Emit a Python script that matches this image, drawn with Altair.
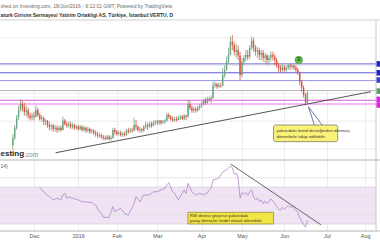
import altair as alt
import pandas as pd

# ---------------- data (daily bars, index 0 = 2015-11-16) ----------------
opens = [2.07,2.20,2.38,2.56,2.70,2.81,2.76,2.67,2.69,2.60,
         2.56,2.60,2.58,2.70,2.61,2.54,2.56,2.49,2.51,2.43,
         2.40,2.42,2.36,2.38,2.34,2.38,2.34,2.51,2.45,2.42,
         2.45,2.40,2.43,2.38,2.40,2.36,2.40,2.34,2.38,2.33,
         2.36,2.31,2.33,2.29,2.27,2.24,2.25,2.22,2.20,2.18,
         2.22,2.18,2.20,2.34,2.31,2.27,2.29,2.25,2.27,2.25,
         2.33,2.31,2.34,2.33,2.43,2.40,2.34,2.36,2.33,2.40,
         2.43,2.40,2.45,2.42,2.47,2.49,2.47,2.51,2.47,2.49,
         2.51,2.61,2.58,2.54,2.51,2.54,2.52,2.56,2.58,2.54,
         2.60,2.58,2.81,2.74,2.69,2.72,2.69,2.74,2.78,2.81,
         2.87,2.83,2.90,2.88,2.92,3.14,3.17,3.12,3.15,3.14,
         3.33,3.42,3.57,3.69,3.93,3.87,3.75,3.78,3.68,3.33,
         3.57,3.64,3.69,3.66,3.82,3.95,3.82,3.75,3.78,3.69,
         3.73,3.64,3.68,3.60,3.64,3.69,3.66,3.60,3.51,3.46,
         3.42,3.48,3.42,3.46,3.50,3.48,3.50,3.46,3.42,3.37,
         3.21,3.10,2.97,2.83]
highs = [2.27,2.43,2.61,2.78,2.90,2.88,2.83,2.78,2.74,2.65,
         2.65,2.67,2.78,2.74,2.65,2.61,2.58,2.54,2.52,2.49,
         2.45,2.45,2.43,2.42,2.42,2.42,2.58,2.54,2.49,2.49,
         2.49,2.47,2.45,2.43,2.43,2.43,2.42,2.42,2.40,2.40,
         2.38,2.36,2.36,2.33,2.31,2.29,2.27,2.25,2.24,2.25,
         2.25,2.24,2.38,2.38,2.34,2.33,2.33,2.31,2.31,2.36,
         2.38,2.38,2.38,2.56,2.52,2.42,2.40,2.38,2.43,2.49,
         2.47,2.49,2.49,2.51,2.52,2.52,2.52,2.52,2.52,2.54,
         2.65,2.65,2.61,2.58,2.58,2.58,2.60,2.61,2.61,2.63,
         2.61,2.88,2.87,2.78,2.76,2.76,2.78,2.81,2.85,2.90,
         2.92,2.94,2.94,2.96,3.21,3.21,3.19,3.19,3.19,3.46,
         3.50,3.66,3.82,4.02,4.05,3.93,3.89,3.86,3.75,3.64,
         3.69,3.78,3.78,3.87,4.02,4.00,3.87,3.84,3.82,3.78,
         3.78,3.73,3.71,3.69,3.75,3.75,3.71,3.64,3.55,3.51,
         3.53,3.51,3.50,3.53,3.53,3.53,3.51,3.50,3.46,3.39,
         3.24,3.14,3.01,3.05]
lows = [1.98,2.16,2.34,2.52,2.67,2.67,2.60,2.58,2.54,2.51,
        2.52,2.51,2.56,2.58,2.51,2.49,2.43,2.42,2.38,2.34,
        2.33,2.31,2.31,2.29,2.31,2.31,2.33,2.42,2.38,2.38,
        2.36,2.36,2.34,2.34,2.33,2.33,2.31,2.31,2.29,2.29,
        2.27,2.27,2.25,2.22,2.20,2.20,2.18,2.16,2.15,2.16,
        2.15,2.15,2.18,2.25,2.24,2.24,2.22,2.22,2.22,2.24,
        2.27,2.29,2.29,2.31,2.34,2.31,2.29,2.29,2.31,2.36,
        2.34,2.38,2.38,2.40,2.43,2.43,2.43,2.43,2.45,2.45,
        2.49,2.54,2.51,2.49,2.49,2.49,2.51,2.52,2.52,2.52,
        2.52,2.56,2.70,2.65,2.65,2.65,2.67,2.70,2.74,2.78,
        2.79,2.81,2.85,2.83,2.90,3.10,3.08,3.10,3.10,3.12,
        3.28,3.41,3.53,3.68,3.78,3.68,3.64,3.60,3.24,3.28,
        3.51,3.57,3.60,3.62,3.78,3.75,3.68,3.64,3.60,3.60,
        3.57,3.55,3.53,3.51,3.57,3.59,3.51,3.46,3.39,3.37,
        3.39,3.37,3.39,3.42,3.42,3.44,3.42,3.37,3.33,3.14,
        3.03,2.92,2.78,2.79]
closes = [2.20,2.38,2.56,2.70,2.81,2.74,2.67,2.70,2.60,2.56,
          2.60,2.58,2.70,2.61,2.54,2.56,2.49,2.51,2.43,2.40,
          2.42,2.36,2.38,2.34,2.38,2.34,2.51,2.45,2.42,2.45,
          2.40,2.43,2.38,2.40,2.36,2.40,2.34,2.38,2.33,2.36,
          2.31,2.33,2.29,2.27,2.24,2.25,2.22,2.20,2.18,2.22,
          2.18,2.20,2.34,2.31,2.27,2.29,2.25,2.27,2.25,2.33,
          2.31,2.34,2.33,2.43,2.40,2.34,2.36,2.33,2.40,2.43,
          2.40,2.45,2.42,2.47,2.49,2.47,2.51,2.47,2.49,2.51,
          2.61,2.58,2.54,2.51,2.54,2.52,2.56,2.58,2.54,2.60,
          2.58,2.81,2.74,2.69,2.72,2.69,2.74,2.78,2.81,2.87,
          2.83,2.90,2.88,2.92,3.14,3.17,3.12,3.15,3.14,3.33,
          3.42,3.57,3.69,3.93,3.87,3.75,3.78,3.68,3.33,3.57,
          3.64,3.69,3.66,3.82,3.95,3.82,3.75,3.78,3.69,3.73,
          3.64,3.68,3.60,3.64,3.69,3.66,3.60,3.51,3.46,3.42,
          3.48,3.42,3.46,3.50,3.48,3.50,3.46,3.42,3.37,3.21,
          3.10,2.97,2.83,3.00]

rsi_idx = [14,16,19,21,23,25,26,27,28,29,31,34,36,38,41,43,44,46,47,50,
           52,53,56,58,60,63,64,66,68,71,73,75,77,79,80,81,83,84,86,88,
           89,90,91,93,95,97,99,101,103,104,106,107,109,111,112,113,114,115,116,117,
           118,119,120,121,122,123,124,125,126,127,128,129,130,131,132,133,134,135,136,137,
           138,139,140,141,142,143,144,145,146,147,148,149,150,151,152,153]
rsi_val = [69.7,64.6,59.5,56.0,57.8,56.0,61.4,63.2,57.8,59.2,57.8,56.0,54.1,53.8,53.0,50.5,46.2,41.6,37.2,37.2,
           48.7,43.3,47.0,41.6,39.7,52.0,59.5,54.1,61.4,61.4,64.9,64.9,66.8,68.6,72.2,74.6,64.9,63.2,56.0,63.2,
           66.8,63.0,74.0,64.9,61.4,63.2,61.4,63.5,68.9,77.6,78.6,79.7,86.2,88.4,90.5,92.7,91.0,84.0,85.0,80.0,
           58,64,62,64,61,65,67,59,56,58,54,56,52,55,52,54,57,55,52,49,
           46,45,48,46,48,50,48,49,47,45,42,37,33,29.5,26.5,34]

month_ticks = [11, 34, 54, 75, 98, 119, 141, 163, 183]
month_labels = ["Dec", "2016", "Feb", "Mar", "Apr", "May", "Jun", "Jul", "Aug"]

price_grid = [2.0, 2.5, 3.0, 3.5, 4.0]
rsi_grid = [40, 60, 80]
rsi_band = [30, 70]

level_prices = [3.53, 3.37, 3.23, 3.05, 2.875, 2.81]
level_colors = ["#6a6ad9", "#5c5cd6", "#9a9ae6", "#b9b9b9", "#e060e0", "#f7b8f7"]
level_widths = [1, 1, 1, 1, 1, 2]
tag_prices = [3.53, 3.37, 3.24, 3.04, 2.89, 2.79]
tag_colors = ["#2323c8", "#2323c8", "#3b3bd6", "#5b9d64", "#e022e0", "#e022e0"]

main_trend_i = [22.2, 186.0]
main_trend_p = [1.93, 3.03]
rsi_trend_i = [113.1, 160.1]
rsi_trend_v = [94.9, 29.0]

# texts as visible in the (left-cropped) reference
title_1 = "shed on Investing.com, 18/Jun/2016 - 9:12:01 GMT, Powered by TradingView."
title_2 = "aturk Girisim Sermayesi Yatirim Ortakligi AS, Türkiye, İstanbul:VERTU, D"
logo_1, logo_2 = "esting", ".com"
rsi_label = "14)"
note_1 = ["yukarıdaki trend desteğinden dönmüş", "dönenlerle takip edilebilir."]
note_2 = ["RSI direnci geçerse yukarıdaki", "yatay dirençler hedef olarak izlenebilir."]

assert len(opens) == len(highs) == len(lows) == len(closes) == 154
assert len(rsi_idx) == len(rsi_val)

# ---------------- chart ----------------
FONT = "Liberation Sans"
W, H, MAIN_H = 376, 211, 140
UP, DOWN = "#6ba583", "#d75442"

XS = alt.Scale(domain=[-4.05, 186], nice=False, zero=False)
PS = alt.Scale(domain=[1.80, 4.32], range=[MAIN_H, 0], nice=False, zero=False)
RS = alt.Scale(domain=[22.4, 99.2], range=[H, MAIN_H], nice=False, zero=False)

label_expr = " : ".join(f"datum.value == {v} ? '{t}'" for v, t in zip(month_ticks, month_labels)) + " : ''"
XAX = alt.Axis(values=month_ticks, labelExpr=label_expr, grid=True, gridColor="#ececec",
               domain=False, ticks=False, labelFontSize=5.5, labelColor="#555555",
               labelPadding=2, title=None, labelFont=FONT, labelAngle=0,
               labelOverlap=False, labelBound=False, labelFlush=False)


def X(f="i"):
    return alt.X(f"{f}:Q", scale=XS, axis=XAX)


def PY(f):
    return alt.Y(f"{f}:Q", scale=PS, axis=None)


def RY(f):
    return alt.Y(f"{f}:Q", scale=RS, axis=None)


one = pd.DataFrame({"k": [0]})
candles = pd.DataFrame({"i": list(range(len(opens))), "o": opens, "h": highs, "l": lows, "c": closes})
rsi_df = pd.DataFrame({"i": rsi_idx, "r": rsi_val})
cond = alt.condition("datum.c >= datum.o", alt.value(UP), alt.value(DOWN))

layers = []

# RSI band
layers.append(alt.Chart(pd.DataFrame({"lo": [rsi_band[0]], "hi": [rsi_band[1]]})).mark_rect(
    color="#efe3f4").encode(x=alt.value(0), x2=alt.value(W), y=RY("hi"), y2="lo"))

# grids
layers.append(alt.Chart(pd.DataFrame({"p": price_grid})).mark_rule(color="#ececec", strokeWidth=1).encode(
    x=alt.value(0), x2=alt.value(W), y=PY("p")))
layers.append(alt.Chart(pd.DataFrame({"r": rsi_grid})).mark_rule(color="#e4e4e4", strokeWidth=1).encode(
    x=alt.value(0), x2=alt.value(W), y=RY("r")))
layers.append(alt.Chart(pd.DataFrame({"r": rsi_band})).mark_rule(color="#d2d2d2", strokeWidth=0.7).encode(
    x=alt.value(0), x2=alt.value(W), y=RY("r")))

# x axis (month gridlines + labels)
layers.append(alt.Chart(pd.DataFrame({"i": month_ticks})).mark_rule(opacity=0).encode(x=X()))

# horizontal levels
levels = pd.DataFrame({"p": level_prices, "col": level_colors, "w": level_widths})
layers.append(alt.Chart(levels).mark_rule().encode(
    x=alt.value(0), x2=alt.value(W), y=PY("p"),
    color=alt.Color("col:N", scale=None), strokeWidth=alt.StrokeWidth("w:Q", scale=None)))

# panel borders
layers.append(alt.Chart(one).mark_rule(color="#d0d0d0", strokeWidth=1).encode(
    x=alt.value(0), x2=alt.value(W + 4), y=alt.value(0)))
layers.append(alt.Chart(one).mark_rule(color="#b4b4b4", strokeWidth=1).encode(
    x=alt.value(0), x2=alt.value(W + 4), y=alt.value(MAIN_H)))
layers.append(alt.Chart(one).mark_rule(color="#b4b4b4", strokeWidth=1).encode(
    x=alt.value(0), x2=alt.value(W + 4), y=alt.value(H)))
layers.append(alt.Chart(one).mark_rule(color="#c8c8c8", strokeWidth=1).encode(
    x=alt.value(W), y=alt.value(0), y2=alt.value(H)))

# main trend line
layers.append(alt.Chart(pd.DataFrame({"i": main_trend_i, "p": main_trend_p})).mark_line(
    color="#3f3f3f", strokeWidth=0.9).encode(x=X(), y=PY("p")))

# candles
layers.append(alt.Chart(candles).mark_rule(strokeWidth=0.8).encode(x=X(), y=PY("l"), y2="h", color=cond))
layers.append(alt.Chart(candles).mark_bar(size=1.4).encode(x=X(), y=PY("o"), y2="c", color=cond))

# price tags at right edge
tags = pd.DataFrame({"hi": [p + 0.05 for p in tag_prices], "lo": [p - 0.05 for p in tag_prices], "col": tag_colors})
layers.append(alt.Chart(tags).mark_rect().encode(
    x=alt.value(W + 0.5), x2=alt.value(W + 8), y=PY("hi"), y2="lo", color=alt.Color("col:N", scale=None)))

# dividend marker
layers.append(alt.Chart(pd.DataFrame({"i": [148.5], "p": [3.60]})).mark_circle(
    size=55, color="#6cc04a", opacity=1, stroke="#3f8f2e", strokeWidth=0.6).encode(x=X(), y=PY("p")))
layers.append(alt.Chart(pd.DataFrame({"i": [148.5], "p": [3.60], "t": ["D"]})).mark_text(
    fontSize=4.5, font=FONT, fontWeight="bold", color="#1d4d14", baseline="middle").encode(
    x=X(), y=PY("p"), text="t:N"))

# callout on price panel
layers.append(alt.Chart(pd.DataFrame({"i": [153.5, 156.6], "p": [2.76, 2.43]})).mark_line(
    color="#4b5b8c", strokeWidth=0.8).encode(x=X(), y=PY("p")))
layers.append(alt.Chart(pd.DataFrame({"i": [153.5, 160.6], "p": [2.76, 2.43]})).mark_line(
    color="#4b5b8c", strokeWidth=0.8).encode(x=X(), y=PY("p")))
layers.append(alt.Chart(pd.DataFrame({"i": [135.4], "i2": [168.7], "p": [2.43], "p2": [2.13]})).mark_rect(
    color="#faf277", stroke="#6b6b6b", strokeWidth=0.7, cornerRadius=2).encode(
    x=X(), x2="i2", y=PY("p"), y2="p2"))
layers.append(alt.Chart(pd.DataFrame({"i": [136.9, 136.9], "p": [2.33, 2.22], "t": note_1})).mark_text(
    fontSize=4.4, font=FONT, color="#333333", align="left", baseline="middle").encode(
    x=X(), y=PY("p"), text="t:N"))

# RSI
layers.append(alt.Chart(rsi_df).mark_line(color="#b185c9", strokeWidth=0.8).encode(x=X(), y=RY("r")))
layers.append(alt.Chart(pd.DataFrame({"i": rsi_trend_i, "r": rsi_trend_v})).mark_line(
    color="#555555", strokeWidth=0.9).encode(x=X(), y=RY("r")))
layers.append(alt.Chart(pd.DataFrame({"i": [90.9], "i2": [135.4], "r": [42.6], "r2": [30.0]})).mark_rect(
    color="#f2e442", stroke="#8a8240", strokeWidth=0.7).encode(x=X(), x2="i2", y=RY("r"), y2="r2"))
layers.append(alt.Chart(pd.DataFrame({"i": [91.9, 91.9], "r": [38.6, 33.5], "t": note_2})).mark_text(
    fontSize=4.3, font=FONT, color="#333333", align="left", baseline="middle").encode(
    x=X(), y=RY("r"), text="t:N"))

# texts: titles, logo, indicator label
layers.append(alt.Chart(pd.DataFrame({"t": [title_1]})).mark_text(
    fontSize=5, font=FONT, color="#6a6a6a", align="left", baseline="middle").encode(
    x=alt.value(0.5), y=alt.value(-14), text="t:N"))
layers.append(alt.Chart(pd.DataFrame({"t": [title_2]})).mark_text(
    fontSize=5, font=FONT, fontWeight="bold", color="#333333", align="left", baseline="middle").encode(
    x=alt.value(0.5), y=alt.value(-5), text="t:N"))
layers.append(alt.Chart(pd.DataFrame({"t": [logo_1]})).mark_text(
    fontSize=8, font=FONT, fontWeight="bold", color="#262626", align="left", baseline="middle").encode(
    x=alt.value(0.5), y=alt.value(134), text="t:N"))
layers.append(alt.Chart(pd.DataFrame({"t": [logo_2]})).mark_text(
    fontSize=6.5, font=FONT, color="#8a8a8a", align="left", baseline="middle").encode(
    x=alt.value(24), y=alt.value(134.5), text="t:N"))
layers.append(alt.Chart(pd.DataFrame({"t": [rsi_label]})).mark_text(
    fontSize=5, font=FONT, color="#555555", align="left", baseline="middle").encode(
    x=alt.value(0.5), y=alt.value(146), text="t:N"))

chart = alt.layer(*layers).resolve_scale(y="independent").properties(
    width=W, height=H,
    padding={"left": 0, "top": 20, "right": 4, "bottom": 9},
    autosize=alt.AutoSizeParams(type="none"),
    background="white",
).configure_view(stroke=None)

chart.save("out.html", embed_options={"renderer": "svg", "actions": False})
